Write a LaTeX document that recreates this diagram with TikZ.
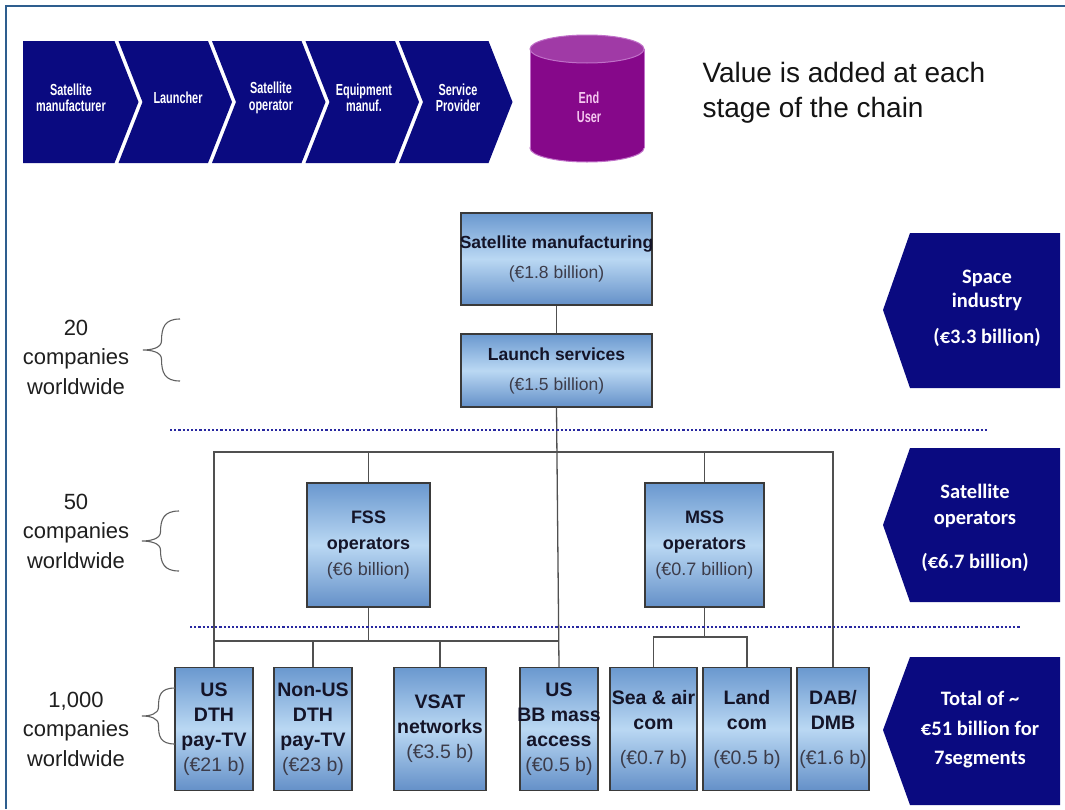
\documentclass[tikz,border=0pt]{standalone}
\usepackage{fontspec}
\setmainfont{Liberation Sans}
\newfontfamily\narrowfont[FakeStretch=0.68]{Liberation Sans}
\newfontfamily\cfont{Carlito}
\definecolor{navy}{HTML}{0A0A80}
\definecolor{purp}{HTML}{86088A}
\definecolor{purptop}{HTML}{A03AA6}
\definecolor{purpedge}{HTML}{C070C8}
\definecolor{framec}{HTML}{2E5E8E}
\definecolor{btop}{HTML}{6A98CF}
\definecolor{bmid}{HTML}{BAD8F3}
\definecolor{bbot}{HTML}{6490C8}
\definecolor{edgec}{HTML}{3A3A3A}
\definecolor{connc}{HTML}{505050}
\definecolor{dotc}{HTML}{2828A0}
\definecolor{ttl}{HTML}{141428}
\definecolor{amt}{HTML}{3C3C4A}
\definecolor{pinktxt}{HTML}{F5C8F0}
\newcommand\mybrace[4]{%
 \draw[brace] (#2,#3) .. controls ({#2-15},#3) and ({(#1+#2)/2},{#3+8}) .. ({(#1+#2)/2},{(#3+#4)/2-9})
   .. controls ({(#1+#2)/2},{(#3+#4)/2-2}) and ({#1+8},{(#3+#4)/2}) .. (#1,{(#3+#4)/2})
   .. controls ({#1+8},{(#3+#4)/2}) and ({(#1+#2)/2},{(#3+#4)/2+2}) .. ({(#1+#2)/2},{(#3+#4)/2+9})
   .. controls ({(#1+#2)/2},{#4-8}) and ({#2-15},#4) .. (#2,#4);}
\begin{document}
\begin{tikzpicture}[x=1pt,y=-1pt,
  box/.style={draw=edgec, line width=1.4pt, top color=btop, bottom color=bbot, middle color=bmid, inner sep=0pt, align=center, text=ttl},
  conn/.style={draw=connc, line width=1.3pt},
  sepline/.style={draw=dotc, line width=2.4pt, dash pattern=on 2.2pt off 2pt},
  chevtxt/.style={text=white, font=\narrowfont\bfseries\fontsize{16}{16.5}\selectfont, align=center},
  penttxt/.style={text=white, font=\cfont\bfseries\fontsize{20.5}{24}\selectfont, align=center},
  lbl/.style={align=center, text=black!88, font=\fontsize{22}{29.5}\selectfont},
  brace/.style={draw=black!62, line width=1.1pt},
  bigf/.style={font=\fontsize{17.5}{30}\selectfont},
  midf/.style={font=\fontsize{18}{26}\selectfont},
  smf/.style={font=\fontsize{19.5}{25}\selectfont}
]
\useasboundingbox (0,0) rectangle (1065,809);
\fill[white] (0,0) rectangle (1065,809);
\draw[framec, line width=2.2pt] (6,809) -- (6,6) -- (1065,6);

% value chain chevrons
\fill[navy] (23,41) -- (114.5,41) -- (138.5,102) -- (114.5,163) -- (23,163) -- cycle;
\fill[navy] (118.5,41) -- (208,41) -- (232,102) -- (208,163) -- (118.5,163) -- (142.5,102) -- cycle;
\fill[navy] (212,41) -- (301.5,41) -- (325.5,102) -- (301.5,163) -- (212,163) -- (236,102) -- cycle;
\fill[navy] (305.5,41) -- (395,41) -- (419,102) -- (395,163) -- (305.5,163) -- (329.5,102) -- cycle;
\fill[navy] (399,41) -- (488.5,41) -- (512.5,102) -- (488.5,163) -- (399,163) -- (423,102) -- cycle;
\node[chevtxt] (c1) at (71,98) {Satellite\\manufacturer};
\node[chevtxt] (c2) at (178,98) {Launcher};
\node[chevtxt] (c3) at (271,98) {Satellite\\operator};
\node[chevtxt] (c4) at (364,98) {Equipment\\manuf.};
\node[chevtxt] (c5) at (458,98) {Service\\Provider};

% end user cylinder
\filldraw[fill=purp, draw=purpedge, line width=1pt] (587,148) ellipse [x radius=57, y radius=14];
\fill[purp] (530,49) rectangle (644,148);
\draw[purpedge, line width=1pt] (530,49) -- (530,148) (644,49) -- (644,148);
\filldraw[fill=purptop, draw=purpedge, line width=1pt] (587,49) ellipse [x radius=57, y radius=14];
\node[chevtxt, text=pinktxt, font=\narrowfont\bfseries\fontsize{16}{19}\selectfont] (eu) at (589,107) {End\\User};

\node[anchor=west, align=left, text=black!92, font=\fontsize{28}{35}\selectfont] (title) at (699,93) {Value is added at each\\stage of the chain};

% boxes
\node[box, bigf, minimum width=191pt, minimum height=92pt] (sm) at (556.5,259)
  {\makebox[0pt]{\bfseries Satellite manufacturing}\\\textcolor{amt}{(€1.8 billion)}};
\node[box, bigf, minimum width=191pt, minimum height=73pt] (ls) at (556.5,370.5)
  {\bfseries Launch services\\\textcolor{amt}{(€1.5 billion)}};
\node[box, midf, minimum width=123pt, minimum height=124pt] (fss) at (368.5,545)
  {\bfseries FSS\\\bfseries operators\\\textcolor{amt}{(€6 billion)}};
\node[box, midf, minimum width=119pt, minimum height=124pt] (mss) at (704.5,545)
  {\bfseries MSS\\\bfseries operators\\\textcolor{amt}{(€0.7 billion)}};

\node[box, smf, minimum width=78pt, minimum height=123pt] (usdth) at (214,729)
  {\bfseries US\\\bfseries DTH\\\bfseries pay-TV\\\textcolor{amt}{(€21 b)}};
\node[box, smf, minimum width=78pt, minimum height=123pt] (nonus) at (313,729)
  {\bfseries Non-US\\\bfseries DTH\\\bfseries pay-TV\\\textcolor{amt}{(€23 b)}};
\node[box, smf, minimum width=92pt, minimum height=123pt] (vsat) at (440,729)
  {\bfseries VSAT\\\bfseries networks\\\textcolor{amt}{(€3.5 b)}};
\node[box, smf, minimum width=78pt, minimum height=123pt] (usbb) at (559,729)
  {\bfseries US\\\makebox[0pt]{\bfseries BB mass}\\\bfseries access\\\textcolor{amt}{(€0.5 b)}};
\node[box, smf, minimum width=87pt, minimum height=123pt] (sea) at (653.5,729)
  {\bfseries Sea \& air\\\bfseries com\\[10pt]\textcolor{amt}{(€0.7 b)}};
\node[box, smf, minimum width=88pt, minimum height=123pt] (land) at (747,729)
  {\bfseries Land\\\bfseries com\\[10pt]\textcolor{amt}{(€0.5 b)}};
\node[box, smf, minimum width=72pt, minimum height=123pt] (dab) at (833,729)
  {\bfseries DAB/\\\bfseries DMB\\[10pt]\textcolor{amt}{(€1.6 b)}};

% connectors
\coordinate (bus1) at (0,452);
\coordinate (bus2) at (0,641);
\coordinate (bus3) at (0,637);
\draw[conn] (sm.south) -- (ls.north);
\draw[conn] (ls.south) -- (usbb.north);
\draw[conn] (usdth.north) -- (usdth.north |- bus1) -- (dab.north |- bus1) -- (dab.north);
\draw[conn] (fss.north) -- (fss.north |- bus1);
\draw[conn] (mss.north) -- (mss.north |- bus1);
\draw[conn] (fss.south) -- (fss.south |- bus2);
\draw[conn] (usdth.north |- bus2) -- (usbb.north |- bus2);
\draw[conn] (nonus.north) -- (nonus.north |- bus2);
\draw[conn] (vsat.north) -- (vsat.north |- bus2);
\draw[conn] (mss.south) -- (mss.south |- bus3);
\draw[conn] (sea.north) -- (sea.north |- bus3) -- (land.north |- bus3) -- (land.north);

% dotted separators
\coordinate (d1a) at (170,430); \coordinate (d1b) at (988,430);
\coordinate (d2a) at (190,627); \coordinate (d2b) at (1021,627);
\draw[sepline] (d1a) -- (d1b);
\draw[sepline] (d2a) -- (d2b);

% left labels and braces
\node[lbl] (l1) at (76,357) {20\\companies\\worldwide};
\node[lbl] (l2) at (76,531) {50\\companies\\worldwide};
\node[lbl] (l3) at (76,729) {1,000\\companies\\worldwide};
\mybrace{143}{180}{319}{381}
\mybrace{142}{179}{511}{571}
\mybrace{142}{175}{688}{744}

% right pentagons
\fill[navy] (883,310) -- (910,233) -- (1060,233) -- (1060,388) -- (910,388) -- cycle;
\fill[navy] (883,525) -- (910,448) -- (1060,448) -- (1060,602) -- (910,602) -- cycle;
\fill[navy] (883,730) -- (910,657) -- (1060,657) -- (1060,805) -- (910,805) -- cycle;
\node[penttxt] (p1) at (987,308) {Space\\industry\\[12pt](€3.3 billion)};
\node[penttxt, font=\cfont\bfseries\fontsize{20.5}{26}\selectfont] (p2) at (975,528) {Satellite\\operators\\[18pt](€6.7 billion)};
\node[penttxt, font=\cfont\bfseries\fontsize{20.5}{29.5}\selectfont] (p3) at (980,730) {Total of \textasciitilde\\€51 billion for\\7segments};
\end{tikzpicture}
\end{document}
